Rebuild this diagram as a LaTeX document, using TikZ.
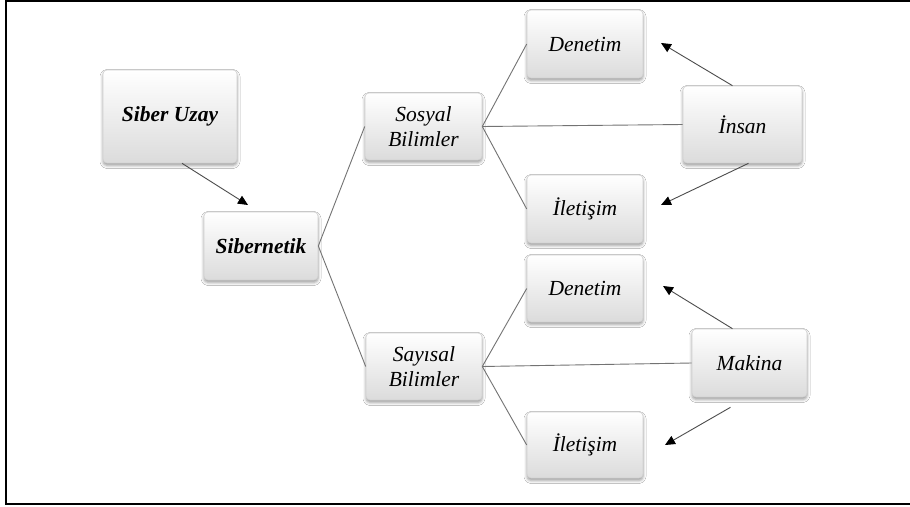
\documentclass[tikz,border=0pt]{standalone}
\usepackage{fontspec}
\setmainfont{Liberation Serif}
\usetikzlibrary{shadows.blur,arrows.meta}
\begin{document}
\begin{tikzpicture}[x=1pt,y=-1pt,
  box/.style={rectangle, rounded corners=4pt, draw=black!18, line width=0.6pt,
    top color=white, bottom color=black!14,
    blur shadow={shadow xshift=0pt, shadow yshift=-2.5pt, shadow blur radius=3pt, shadow opacity=40},
    font=\fontsize{21.5}{25}\selectfont\itshape, align=center, inner sep=0pt},
  bbox/.style={box, font=\fontsize{21.5}{25}\selectfont\bfseries\itshape},
  link/.style={draw=black!55, line width=0.9pt},
  arr/.style={draw=black!70, line width=0.9pt, -{Triangle[length=10pt,width=9pt,color=black]}}]
\useasboundingbox (0,0) rectangle (910,506);
\fill[white] (0,0) rectangle (910,506);
% frame
\draw[line width=2pt] (910,1) -- (6,1) -- (6,503.5) -- (910,503.5);
% nodes
\node[bbox, minimum width=134pt, minimum height=93pt] (su) at (170,116.5) {Siber Uzay};
\node[bbox, minimum width=114pt, minimum height=68pt] (sib) at (261,246) {Sibernetik};
\node[box, minimum width=117pt, minimum height=67pt] (sos) at (423.5,126.5) {Sosyal\\Bilimler};
\node[box, minimum width=116pt, minimum height=67pt] (say) at (424,366.5) {Sayısal\\Bilimler};
\node[box, minimum width=116pt, minimum height=68pt] (d1) at (585,44) {Denetim};
\node[box, minimum width=116pt, minimum height=68pt] (i1) at (585,209) {İletişim};
\node[box, minimum width=116pt, minimum height=67pt] (d2) at (585,288.5) {Denetim};
\node[box, minimum width=116pt, minimum height=66pt] (i2) at (585,445) {İletişim};
\node[box, minimum width=119pt, minimum height=77pt] (ins) at (742.5,124.5) {İnsan};
\node[box, minimum width=115pt, minimum height=68pt] (mak) at (749.5,363) {Makina};
% links
\draw[link] (sib.east) -- (sos.west);
\draw[link] (sib.east) -- (say.west);
\draw[link] (sos.east) -- (d1.west);
\draw[link] (sos.east) -- (ins.west);
\draw[link] (sos.east) -- (i1.west);
\draw[link] (say.east) -- (d2.west);
\draw[link] (say.east) -- (mak.west);
\draw[link] (say.east) -- (i2.west);
% arrows
\coordinate (t0) at (248,205);
\coordinate (t1) at (661,43);
\coordinate (t2) at (661,205);
\coordinate (t3) at (663,286);
\coordinate (t4) at (665,445);
\draw[arr] ([xshift=12pt]su.south) -- (t0);
\draw[arr] ([xshift=-10pt]ins.north) -- (t1);
\draw[arr] ([xshift=6pt]ins.south) -- (t2);
\draw[arr] ([xshift=-17pt]mak.north) -- (t3);
\draw[arr] ([xshift=-19pt,yshift=-10pt]mak.south) -- (t4);
\end{tikzpicture}
\end{document}
